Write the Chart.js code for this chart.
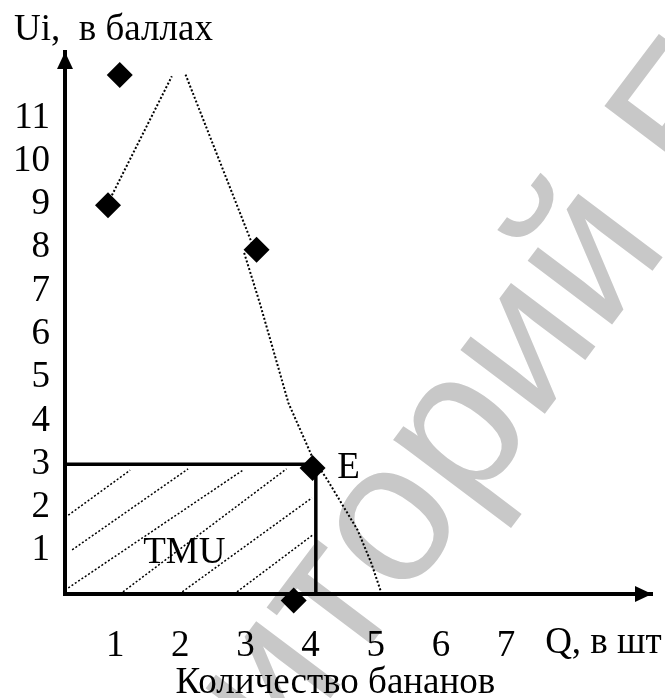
<!DOCTYPE html>
<html>
<head>
<meta charset="utf-8">
<script src="https://cdn.jsdelivr.net/npm/chart.js@4.4.1/dist/chart.umd.min.js"></script>
<style>
  html, body { margin: 0; background: #fff; }
  #box { width: 665px; height: 698px; }
</style>
</head>
<body>
<div id="box"><canvas id="wykres"></canvas></div>
<script>
// podpisy osi
var xTicks = [1, 2, 3, 4, 5, 6, 7];
var yTicks = [1, 2, 3, 4, 5, 6, 7, 8, 9, 10, 11];

// punkty (romby)
var punktyX = [0.89, 1.07, 3.17, 4.03, 3.74];
var punktyY = [8.98, 11.99, 7.95, 2.91, -0.15];

// krzywa kropkowana - trzy odcinki
var odc1X = [0.95, 1.87];
var odc1Y = [9.21, 11.96];
var odc2X = [2.08, 3.11];
var odc2Y = [12.0, 8.06];
var odc3X = [2.98, 3.22, 3.66, 4.03, 4.26, 4.72, 4.93, 5.08];
var odc3Y = [7.88, 6.72, 4.41, 3.15, 2.63, 1.48, 0.72, 0.05];

// prostokat TMU
var prostX = [0.23, 4.08, 4.08];
var prostY = [3, 3, 0];

// kreskowanie
var kreskaX0 = [0.28, 0.34, 0.28, 1.12, 2.03, 2.87];
var kreskaY0 = [1.82, 1.02, 0.14, 0.05, 0.05, 0.05];
var kreskaX1 = [1.23, 2.12, 2.96, 3.63, 4.02, 4.03];
var kreskaY1 = [2.86, 2.89, 2.86, 2.89, 2.22, 1.36];

var X_MIN = 0.23, X_MAX = 9.24, Y_MIN = 0, Y_MAX = 12.52;

var napisy = [
  { t: 'E', x: 4.41, y: 2.91 },
  { t: 'TMU', x: 1.43, y: 0.95 }
];

var FONT = '"Liberation Serif", "Times New Roman", serif';

function pary(xs, ys) {
  return xs.map(function (x, i) { return { x: x, y: ys[i] }; });
}

function linia(xs, ys, szer) {
  return {
    data: pary(xs, ys),
    showLine: true,
    borderColor: '#000',
    borderWidth: szer,
    borderDash: [2, 2],
    pointRadius: 0,
    fill: false,
    tension: 0
  };
}

var datasets = [];
datasets.push({
  data: pary(punktyX, punktyY),
  showLine: false,
  pointStyle: 'rectRot',
  pointRadius: 13,
  pointBorderWidth: 0,
  pointBackgroundColor: '#000',
  pointBorderColor: '#000',
  clip: false
});
datasets.push({
  data: pary(prostX, prostY),
  showLine: true,
  borderColor: '#000',
  borderWidth: 3.5,
  pointRadius: 0,
  fill: false
});
datasets.push(linia(odc1X, odc1Y, 2));
datasets.push(linia(odc2X, odc2Y, 2));
datasets.push(linia(odc3X, odc3Y, 2));
for (var i = 0; i < kreskaX0.length; i++) {
  datasets.push(linia([kreskaX0[i], kreskaX1[i]], [kreskaY0[i], kreskaY1[i]], 1.5));
}

var dodatki = {
  id: 'dodatki',
  beforeDraw: function (chart) {
    // znak wodny
    var ctx = chart.ctx, fs = 200;
    ctx.save();
    ctx.fillStyle = '#c8c8c8';
    ctx.font = fs + 'px "Liberation Sans", Arial, sans-serif';
    ctx.textBaseline = 'alphabetic';
    ctx.translate(396, 525);
    ctx.rotate(-53 * Math.PI / 180);
    var pre = ctx.measureText('Репозит').width;
    var w = ctx.measureText('о').width;
    ctx.fillText('Репозиторий БГУИР', -pre - w / 2, 0.52 * fs / 2);
    ctx.restore();
  },
  afterDraw: function (chart) {
    var ctx = chart.ctx, a = chart.chartArea;
    var sx = chart.scales.x, sy = chart.scales.y;
    ctx.save();
    ctx.fillStyle = '#000';
    // strzalki
    ctx.beginPath();
    ctx.moveTo(a.left, a.top);
    ctx.lineTo(a.left - 8, a.top + 17);
    ctx.lineTo(a.left + 8, a.top + 17);
    ctx.closePath();
    ctx.fill();
    ctx.beginPath();
    ctx.moveTo(a.right, a.bottom);
    ctx.lineTo(a.right - 17, a.bottom - 8);
    ctx.lineTo(a.right - 17, a.bottom + 8);
    ctx.closePath();
    ctx.fill();
    // napisy
    ctx.font = '37px ' + FONT;
    ctx.textAlign = 'left';
    ctx.textBaseline = 'alphabetic';
    ctx.fillText('Ui,  в баллах', 14, 40);
    ctx.fillText('Q, в шт', sx.getPixelForValue(7.6), a.bottom + 59);
    ctx.textAlign = 'center';
    ctx.fillText('Количество бананов', sx.getPixelForValue(4.38), a.bottom + 99);
    ctx.textAlign = 'left';
    ctx.textBaseline = 'middle';
    napisy.forEach(function (n) {
      ctx.fillText(n.t, sx.getPixelForValue(n.x), sy.getPixelForValue(n.y));
    });
    ctx.restore();
  }
};

new Chart(document.getElementById('wykres'), {
  type: 'line',
  data: { datasets: datasets },
  plugins: [dodatki],
  options: {
    responsive: true,
    maintainAspectRatio: false,
    animation: false,
    layout: { padding: { top: 52, right: 12, left: 0, bottom: 0 } },
    plugins: { legend: { display: false }, tooltip: { enabled: false } },
    scales: {
      x: {
        type: 'linear',
        min: X_MIN,
        max: X_MAX,
        grid: { display: false, drawTicks: false },
        border: { display: true, color: '#000', width: 4 },
        ticks: { color: '#000', font: { family: FONT, size: 37 }, padding: 30, maxRotation: 0, autoSkip: false },
        afterBuildTicks: function (s) { s.ticks = xTicks.map(function (v) { return { value: v }; }); },
        afterFit: function (s) { s.height = 104; }
      },
      y: {
        type: 'linear',
        min: Y_MIN,
        max: Y_MAX,
        grid: { display: false, drawTicks: false },
        border: { display: true, color: '#000', width: 4 },
        ticks: { color: '#000', font: { family: FONT, size: 37 }, padding: 15, autoSkip: false },
        afterBuildTicks: function (s) { s.ticks = yTicks.map(function (v) { return { value: v }; }); },
        afterFit: function (s) { s.width = 65; }
      }
    }
  }
});
</script>
</body>
</html>
